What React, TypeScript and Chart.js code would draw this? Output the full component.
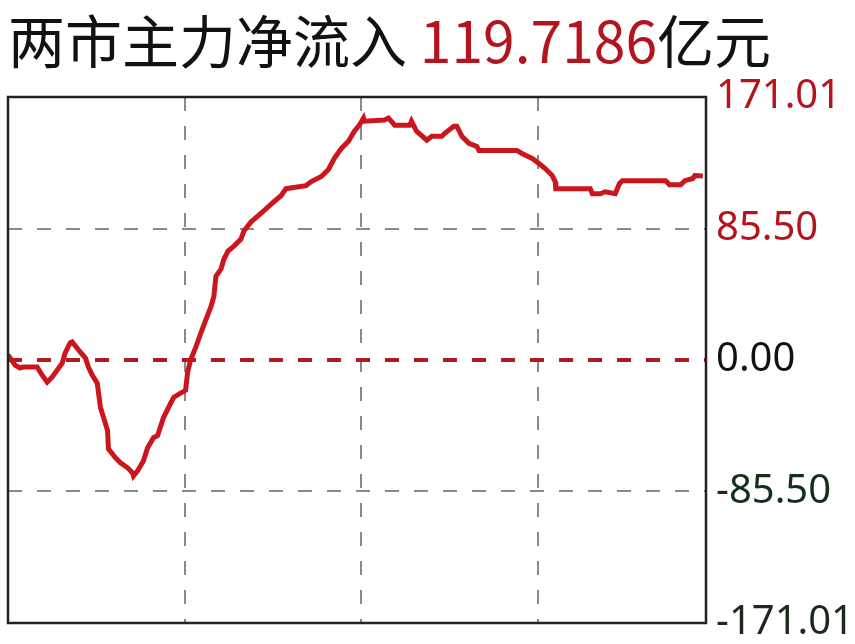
import { useEffect, useRef } from "react";
import Chart from "chart.js/auto";

// minute index (0 = open) and net main-force inflow, 亿元
const minutes = [
  0, 2.4, 4.1, 5.1, 9.9, 11.6, 13.3, 15.0, 16.7, 18.4, 19.4, 21.1, 21.8, 24.5,
  26.3, 27.3, 28.6, 30.3, 31.4, 33.8, 34.1, 36.5, 38.2, 40.6, 42.3, 42.6, 44.0,
  46.0, 47.4, 49.4, 50.8, 52.8, 55.2, 56.3, 58.6, 60.3, 61.0, 62.0, 63.8, 65.5,
  67.2, 68.9, 69.9, 70.6, 72.3, 73.3, 74.7, 76.7, 79.1, 80.1, 82.5, 84.9, 87.6,
  90.3, 92.7, 94.4, 101.2, 103.0, 106.4, 108.8, 110.8, 113.2, 115.6, 117.6,
  119.3, 120.7, 121.0, 127.8, 129.2, 131.3, 136.4, 137.0, 138.7, 142.2, 143.9,
  147.3, 148.3, 151.4, 152.4, 154.1, 156.5, 159.2, 159.9, 172.8, 174.5, 178.0,
  180.3, 182.4, 184.8, 185.8, 186.0, 197.7, 198.4, 201.1, 202.8, 206.2, 207.6,
  208.6, 223.3, 224.6, 228.4, 229.8, 232.5, 233.2, 235.9,
];
const flow = [
  3.3, -3.3, -5.2, -4.6, -4.6, -9.8, -14.4, -11.1, -6.6, -2.0, 4.6, 11.1, 11.8,
  5.2, 1.3, -4.6, -9.8, -15.1, -30.8, -45.9, -57.7, -63.6, -66.8, -70.1, -73.4,
  -75.4, -72.1, -65.5, -57.0, -50.5, -49.1, -37.4, -28.2, -24.2, -21.6, -19.7,
  -7.9, 0, 8.5, 17.7, 26.2, 34.7, 41.3, 54.4, 59.0, 65.5, 70.8, 74.1, 78.6, 83.9,
  89.8, 93.7, 98.3, 102.9, 106.8, 111.4, 113.4, 116.0, 119.3, 123.9, 131.1,
  137.6, 142.2, 148.8, 152.7, 157.3, 155.3, 156.0, 157.3, 152.7, 152.7, 155.3,
  148.8, 142.9, 145.5, 145.5, 147.4, 152.0, 152.0, 145.5, 140.9, 138.9, 136.3,
  136.3, 134.3, 131.1, 127.8, 124.5, 119.9, 116.0, 111.4, 111.4, 108.1, 108.1,
  109.4, 108.1, 114.7, 116.6, 116.6, 114.0, 114.0, 116.6, 118.0, 119.9, 119.7,
];

const yTicks = [-171.01, -85.5, 0, 85.5, 171.01];
const yLabels = ["-171.01", "-85.50", "0.00", "85.50", "171.01"];
const yLabelColors = ["#1c2a1c", "#12301a", "#111111", "#b3141d", "#b3141d"];
const xTicks = [60, 120, 180];

const frame = {
  id: "frame",
  afterDraw(chart: Chart) {
    const { ctx, chartArea } = chart;
    ctx.save();
    ctx.strokeStyle = "#222";
    ctx.lineWidth = 2.5;
    ctx.strokeRect(chartArea.left, chartArea.top, chartArea.width, chartArea.height);
    ctx.restore();
  },
};

export default function App() {
  const canvasRef = useRef<HTMLCanvasElement | null>(null);

  useEffect(() => {
    if (!canvasRef.current) return;
    const chart = new Chart(canvasRef.current, {
      type: "line",
      data: {
        datasets: [
          {
            data: minutes.map((m, i) => ({ x: m, y: flow[i] })),
            borderColor: "#cc161e",
            borderWidth: 5,
            pointRadius: 0,
            tension: 0,
            order: 1,
          },
          {
            data: [
              { x: 0, y: 0 },
              { x: 237, y: 0 },
            ],
            borderColor: "#b01a22",
            borderWidth: 4,
            borderDash: [14, 15],
            pointRadius: 0,
            order: 2,
          },
        ],
      },
      options: {
        animation: false,
        responsive: false,
        layout: { padding: { top: 97, bottom: 21, left: 8, right: 0 } },
        plugins: { legend: { display: false }, tooltip: { enabled: false } },
        scales: {
          x: {
            type: "linear",
            min: 0,
            max: 237,
            afterBuildTicks: (s) => {
              s.ticks = xTicks.map((v) => ({ value: v }));
            },
            afterFit: (s) => {
              s.height = 0;
              s.paddingLeft = 0;
              s.paddingRight = 0;
            },
            ticks: { display: false },
            grid: { color: "#8a8a8a", lineWidth: 2, drawTicks: false },
            border: { display: false, dash: [14, 15] },
          },
          y: {
            position: "right",
            min: -171.01,
            max: 171.01,
            afterBuildTicks: (s) => {
              s.ticks = yTicks.map((v) => ({ value: v }));
            },
            afterFit: (s) => {
              s.width = 149;
              s.paddingTop = 0;
              s.paddingBottom = 0;
            },
            ticks: {
              padding: 10,
              font: { family: "Noto Sans", size: 40 },
              color: (c) => yLabelColors[c.index],
              callback: (_v, i) => yLabels[i],
            },
            grid: {
              drawTicks: false,
              lineWidth: 2,
              color: (c) =>
                c.index === 1 || c.index === 3 ? "#8a8a8a" : "rgba(0,0,0,0)",
            },
            border: { display: false, dash: [14, 15] },
          },
        },
      },
      plugins: [frame],
    });
    return () => chart.destroy();
  }, []);

  return (
    <div
      style={{
        position: "fixed",
        left: 0,
        top: 0,
        width: 855,
        height: 644,
        background: "#fff",
        overflow: "hidden",
      }}
    >
      <div
        style={{
          position: "absolute",
          left: 8,
          top: 4,
          fontFamily: "'Noto Sans CJK SC', 'Noto Sans', sans-serif",
          fontSize: 57,
          lineHeight: 1.2,
          color: "#111",
          whiteSpace: "nowrap",
        }}
      >
        两市主力净流入 <span style={{ color: "#b3141d" }}>119.7186</span>亿元
      </div>
      <canvas
        ref={canvasRef}
        width={855}
        height={644}
        style={{ position: "absolute", left: 0, top: 0 }}
      />
    </div>
  );
}
